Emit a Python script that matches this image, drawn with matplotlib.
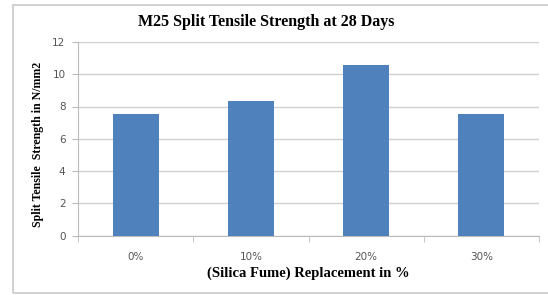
import matplotlib
matplotlib.use("Agg")
import matplotlib.pyplot as plt
from matplotlib.patches import Rectangle

categories = ["0%", "10%", "20%", "30%"]
values = [7.55, 8.35, 10.6, 7.55]
yticks = [0, 2, 4, 6, 8, 10, 12]

W, H = 548, 295
fig = plt.figure(figsize=(W/100, H/100), dpi=100)
fig.patch.set_facecolor("white")

# outer chart frame
fig.patches.append(Rectangle((13/W, 1 - 293/H), (560-13)/W, (293-5)/H,
                             transform=fig.transFigure, fill=False,
                             edgecolor="#c8c8c8", linewidth=1.2))

ax = fig.add_axes([78/W, 1 - 235.5/H, (539-78)/W, (235.5-42)/H])
x = list(range(len(categories)))
ax.bar(x, values, width=0.4, color="#4F81BD", zorder=3)
ax.set_xlim(-0.5, len(categories) - 0.5)
ax.set_ylim(0, 12)
ax.set_yticks(yticks)
ax.set_yticklabels([str(v) for v in yticks], fontsize=7.5, color="#555555",
                   family="DejaVu Sans")
ax.set_xticks(x)
ax.set_xticklabels(categories, fontsize=7.5, color="#555555", family="DejaVu Sans")
ax.set_xticks([i - 0.5 for i in range(len(categories) + 1)], minor=True)
ax.tick_params(axis="x", which="major", length=0, pad=12)
ax.tick_params(axis="x", which="minor", length=4, color="#bbbbbb")
ax.tick_params(axis="y", length=4, color="#bbbbbb", pad=5)
ax.grid(axis="y", color="#d0d0d0", linewidth=1.0, zorder=0)
for s in ["top", "right"]:
    ax.spines[s].set_visible(False)
for s in ["left", "bottom"]:
    ax.spines[s].set_color("#bbbbbb")

fig.text(266/W, 1 - 22/H, "M25 Split Tensile Strength at 28 Days",
         ha="center", va="center", fontsize=11.5, fontweight="bold",
         family="Liberation Serif")
fig.text(38/W, 1 - 144/H, "Split Tensile  Strength in N/mm2", rotation=90,
         ha="center", va="center", fontsize=8.6, fontweight="bold",
         family="Liberation Serif")
fig.text(308/W, 1 - 273/H, "(Silica Fume) Replacement in %",
         ha="center", va="center", fontsize=10.5, fontweight="bold",
         family="Liberation Serif")

fig.savefig("out.png", dpi=100)
